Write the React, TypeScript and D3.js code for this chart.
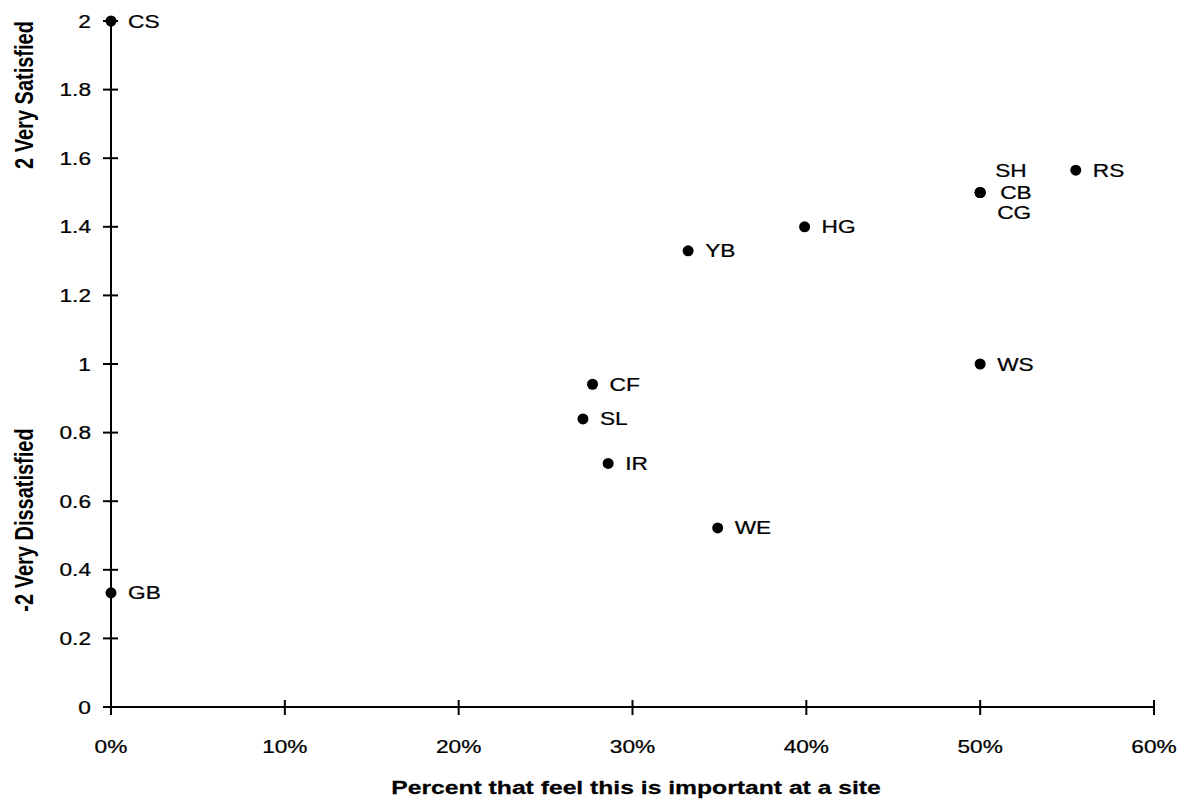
import React from "react";
import * as d3 from "d3";

const codes = ["CS", "GB", "CF", "SL", "IR", "WE", "YB", "HG", "WS", "SH", "CB", "CG", "RS"];
const pctImportant = [0, 0, 0.277, 0.2715, 0.286, 0.349, 0.332, 0.399, 0.5, 0.5, 0.5, 0.5, 0.555];
const satisfaction = [2.0, 0.333, 0.941, 0.84, 0.71, 0.522, 1.33, 1.4, 1.0, 1.5, 1.5, 1.5, 1.565];
const xTicks = [0, 0.1, 0.2, 0.3, 0.4, 0.5, 0.6];
const yTicks = [0, 0.2, 0.4, 0.6, 0.8, 1, 1.2, 1.4, 1.6, 1.8, 2];

// label nudges for overlapping points (dx, dy in px)
const nudge: Record<string, [number, number]> = {
  SH: [15, -22],
  CB: [20, 0],
  CG: [17, 20],
};

const SX = 1.22;

function T({ x, y, anchor = "start", size = 18.6, bold = false, sx = SX, children }: any) {
  return (
    <text
      transform={`translate(${x},${y}) scale(${sx},1)`}
      textAnchor={anchor}
      fontSize={size}
      fontWeight={bold ? "bold" : "normal"}
      fill="#000"
      stroke="#000"
      strokeWidth={0.25}
      dy="0.35em"
    >
      {children}
    </text>
  );
}

export default function App() {
  const W = 1181, H = 801;
  const x = d3.scaleLinear().domain([0, 0.6]).range([111, 1154]);
  const y = d3.scaleLinear().domain([0, 2]).range([707, 21]);
  const font = "'Liberation Sans', Arial, sans-serif";
  const fmt = d3.format(".0%");
  return (
    <svg width={W} height={H} style={{ position: "absolute", left: 0, top: 0, background: "#fff" }} fontFamily={font}>
      <rect width={W} height={H} fill="#fff" />
      {/* axes */}
      <line x1={x(0)} x2={x(0.6)} y1={y(0)} y2={y(0)} stroke="#000" strokeWidth={2} />
      <line x1={x(0)} x2={x(0)} y1={y(0)} y2={y(2)} stroke="#000" strokeWidth={2} />
      {yTicks.map((t) => (
        <g key={"y" + t}>
          <line x1={x(0) - 8} x2={x(0) + 7} y1={y(t)} y2={y(t)} stroke="#000" strokeWidth={2} />
          <T x={91} y={y(t)} anchor="end">{d3.format("~g")(t)}</T>
        </g>
      ))}
      {xTicks.map((t) => (
        <g key={"x" + t}>
          <line x1={x(t)} x2={x(t)} y1={y(0) - 7} y2={y(0) + 8} stroke="#000" strokeWidth={2} />
          <T x={x(t)} y={746} anchor="middle">{fmt(t)}</T>
        </g>
      ))}
      {/* points */}
      {codes.map((c, i) => {
        const px = x(pctImportant[i]);
        const py = y(satisfaction[i]);
        const [dx, dy] = nudge[c] ?? [17, 0];
        return (
          <g key={c}>
            <circle cx={px} cy={py} r={5.5} fill="#000" />
            <T x={px + dx} y={py + dy}>{c}</T>
          </g>
        );
      })}
      {/* titles */}
      <T x={636} y={787} anchor="middle" size={19} bold sx={1.3}>
        Percent that feel this is important at a site
      </T>
      <text transform="translate(24,95) rotate(-90) scale(1,1.25)" textAnchor="middle" fontSize={20} fontWeight="bold" fill="#000" dy="0.35em">
        2 Very Satisfied
      </text>
      <text transform="translate(24,520) rotate(-90) scale(1,1.25)" textAnchor="middle" fontSize={20} fontWeight="bold" fill="#000" dy="0.35em">
        -2 Very Dissatisfied
      </text>
    </svg>
  );
}
